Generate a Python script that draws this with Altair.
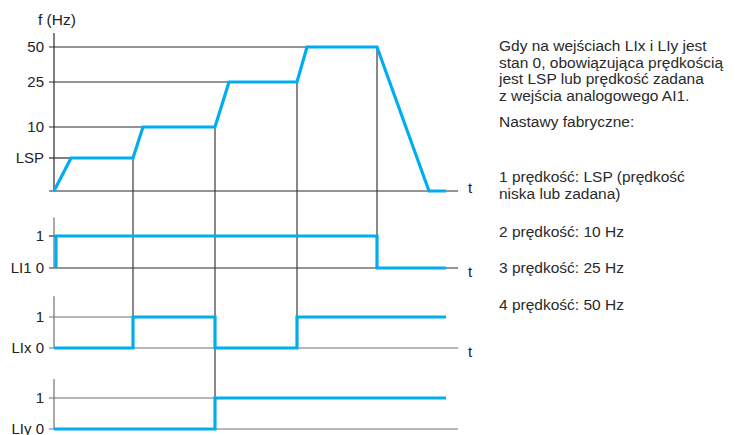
import altair as alt
import pandas as pd

# ---------------- data ----------------
LSP = 5  # nominal value for the schematic "LSP" level
freq_t = [0, 4.25, 19.75, 22.25, 40.25, 43.75, 60.75, 63.25, 80.75, 93.75, 98]
freq_v = [0, LSP, LSP, 10, 10, 25, 25, 50, 50, 0, 0]
freq_ticks = [LSP, 10, 25, 50]
freq_tick_labels = ["LSP", "10", "25", "50"]

signal_names = ["LI1", "LIx", "LIy"]
signal_zero_labels = ["LI1 0", "LIx 0", "LIy 0"]
li1_t = [0.5, 0.5, 80.75, 98]
li1_v = [0, 1, 0, 0]
lix_t = [0, 19.75, 40.25, 60.75, 98]
lix_v = [0, 1, 0, 1, 1]
liy_t = [0, 40.25, 98]
liy_v = [0, 1, 1]
signals = {"LI1": (li1_t, li1_v), "LIx": (lix_t, lix_v), "LIy": (liy_t, liy_v)}

t_axis_end = 101
t_label_panels = ["f", "LI1", "LIx"]

connector_t = [19.75, 40.25, 60.75, 80.75]
connector_target = [("LIx", 1), ("LIy", 1), ("LIx", 1), ("LI1", 0)]

note_lines = [
    "Gdy na wejściach LIx i LIy jest",
    "stan 0, obowiązująca prędkością",
    "jest LSP lub prędkość zadana",
    "z wejścia analogowego AI1.",
    "Nastawy fabryczne:",
    "1 prędkość: LSP (prędkość",
    "niska lub zadana)",
    "2 prędkość: 10 Hz",
    "3 prędkość: 25 Hz",
    "4 prędkość: 50 Hz",
]

# ---------------- layout ----------------
BLUE = "#00AEEF"
DARK = "#2a2a2a"
GREY = "#707070"
TEXT = "#222222"
FONT = "Liberation Sans"

OFFSET = {"LI1": -10, "LIx": -20, "LIy": -30}   # vertical key of each panel's level 0
TOP_EXTRA = 1.5                                  # axis line above level 1
F_TOP, F_TITLE = 60, 70
Y_DOMAIN = [-30, -29, -28.5, -20, -19, -18.5, -10, -9, -8.5, 0, 5, 10, 25, 50, 60, 70]
Y_RANGE = [421, 390, 375, 340, 309, 292, 260, 228, 213, 183, 150, 119, 74, 39, 25, 12]
X_DOMAIN, X_RANGE = [0, 101], [46, 450]
TICK_T = -1.25
LABEL_T = -2.5
TLABEL_T = 103.5
NOTE_T = 111.25
NOTE_ROWS = [0, 1, 2, 3, 4.6, 7.94, 8.97, 11.27, 13.45, 15.7]
NOTE_UNIT = 16.5

XS = alt.Scale(domain=X_DOMAIN, range=X_RANGE, nice=False, zero=False)
YS = alt.Scale(domain=Y_DOMAIN, range=Y_RANGE, nice=False, zero=False)
panel_color = {"f": DARK, "LI1": DARK, "LIx": GREY, "LIy": GREY}

# ---------------- derived tables ----------------
freq_df = pd.DataFrame({"t": freq_t, "key": freq_v, "i": range(len(freq_t))})

sig_rows = []
for s in signal_names:
    ts, vs = signals[s]
    for i, (t, v) in enumerate(zip(ts, vs)):
        sig_rows.append({"s": s, "t": t, "key": OFFSET[s] + v, "i": i})
sig_df = pd.DataFrame(sig_rows)

# horizontal rules: baselines, frequency grid lines, digital level-1 lines
h_rows = []
zero_key = {"f": 0, **OFFSET}
for p in ["f"] + signal_names:
    h_rows.append({"t0": TICK_T, "t1": t_axis_end, "key": zero_key[p], "col": panel_color[p]})
for lv in freq_ticks:
    t_reach = next(t for t, v in zip(freq_t, freq_v) if v == lv)
    h_rows.append({"t0": TICK_T, "t1": t_reach, "key": lv, "col": DARK})
for s in signal_names:
    ts, vs = signals[s]
    t_rise = next(t for t, v in zip(ts, vs) if v == 1)
    h_rows.append({"t0": TICK_T, "t1": t_rise, "key": OFFSET[s] + 1, "col": panel_color[s]})
h_df = pd.DataFrame(h_rows)

# vertical rules: axes and connectors
v_rows = [{"t": 0, "k0": 0, "k1": F_TOP, "col": DARK}]
for s in signal_names:
    v_rows.append({"t": 0, "k0": OFFSET[s], "k1": OFFSET[s] + 1 + TOP_EXTRA, "col": GREY})
freq_at = dict(zip(freq_t, freq_v))
for t, (s, lv) in zip(connector_t, connector_target):
    v_rows.append({"t": t, "k0": OFFSET[s] + lv, "k1": freq_at[t], "col": "#3a3a3a"})
v_df = pd.DataFrame(v_rows)

lab_rows = [{"t": LABEL_T, "key": k, "txt": l} for k, l in zip(freq_ticks, freq_tick_labels)]
for s, zl in zip(signal_names, signal_zero_labels):
    lab_rows.append({"t": LABEL_T, "key": OFFSET[s] + 1, "txt": "1"})
    lab_rows.append({"t": LABEL_T, "key": OFFSET[s], "txt": zl})
lab_df = pd.DataFrame(lab_rows)

title_df = pd.DataFrame({"t": [-4], "key": [F_TITLE], "txt": ["f (Hz)"]})
tf_df = pd.DataFrame({"t": [TLABEL_T], "key": [0], "txt": ["t"]})
tsig_df = pd.DataFrame({"t": [TLABEL_T] * 2, "key": [OFFSET[p] for p in t_label_panels[1:]], "txt": ["t"] * 2})
notes_df = pd.DataFrame({"t": [NOTE_T] * len(note_lines), "row": NOTE_ROWS, "txt": note_lines})


def X(f="t"):
    return alt.X(f"{f}:Q", scale=XS, axis=None)


def Y(f="key"):
    return alt.Y(f"{f}:Q", scale=YS, axis=None)


hrules = alt.Chart(h_df).mark_rule(strokeWidth=1.2).encode(
    x=X("t0"), x2=alt.X2("t1"), y=Y(), color=alt.Color("col:N", scale=None))
vrules = alt.Chart(v_df).mark_rule(strokeWidth=1.2).encode(
    x=X(), y=Y("k0"), y2=alt.Y2("k1"), color=alt.Color("col:N", scale=None))
fline = alt.Chart(freq_df).mark_line(color=BLUE, strokeWidth=3.2, strokeJoin="miter").encode(
    x=X(), y=Y(), order="i:Q")
sline = alt.Chart(sig_df).mark_line(color=BLUE, strokeWidth=3.2, interpolate="step-after",
                                    strokeJoin="miter").encode(
    x=X(), y=Y(), detail="s:N", order="i:Q")

txt_kw = dict(font=FONT, fontSize=15, color=TEXT, baseline="middle")
labels = alt.Chart(lab_df).mark_text(align="right", **txt_kw).encode(x=X(), y=Y(), text="txt:N")
ftitle = alt.Chart(title_df).mark_text(align="left", font=FONT, fontSize=15.5, color=TEXT,
                                      baseline="middle").encode(x=X(), y=Y(), text="txt:N")
tf = alt.Chart(tf_df).mark_text(align="left", dy=-3, **txt_kw).encode(x=X(), y=Y(), text="txt:N")
tsig = alt.Chart(tsig_df).mark_text(align="left", dy=4, **txt_kw).encode(x=X(), y=Y(), text="txt:N")

main = alt.layer(hrules, vrules, fline, sline, labels, ftitle, tf, tsig)

notes = alt.Chart(notes_df).mark_text(align="left", font=FONT, fontSize=15.5, color="#2a2a2a",
                                      baseline="middle").encode(
    x=X(),
    y=alt.Y("row:Q", scale=alt.Scale(domain=[0, 16], range=[38, 38 + 16 * NOTE_UNIT],
                                     nice=False, zero=False), axis=None),
    text="txt:N")

chart = alt.layer(main, notes).resolve_scale(y="independent").properties(
    width=716, height=427, padding=0, autosize="none", background="white"
).configure_view(stroke=None)

chart.save("out.html", embed_options={"renderer": "svg", "actions": False})
